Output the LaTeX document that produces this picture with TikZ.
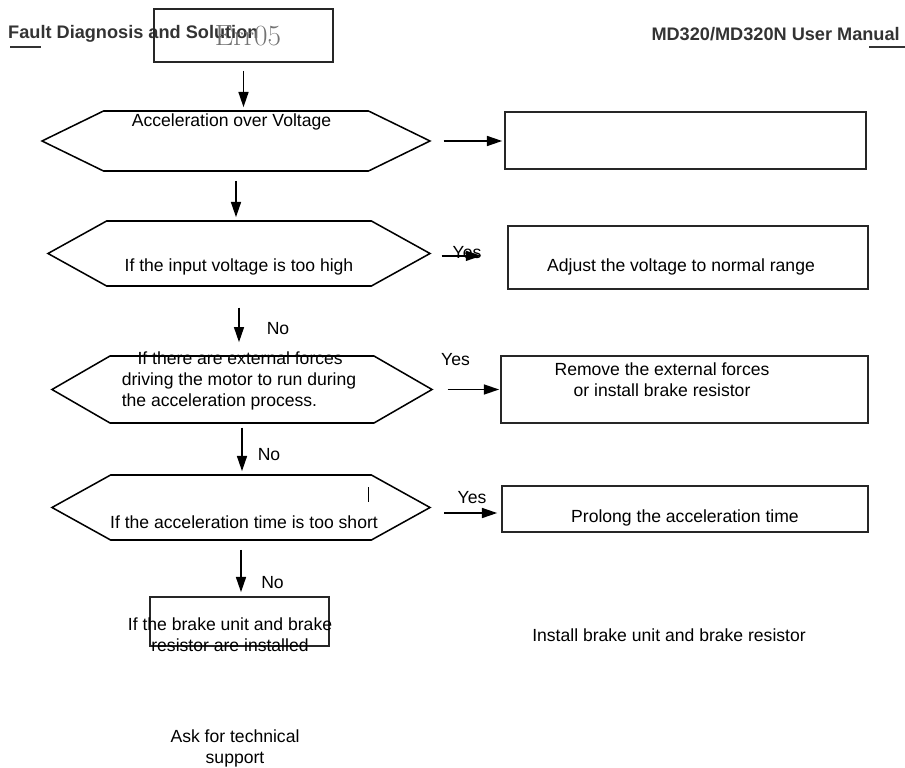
\documentclass[tikz,border=0pt]{standalone}
\usepackage{fontspec}
\setsansfont{Liberation Sans}
\usetikzlibrary{arrows.meta,shapes.symbols}

\begin{document}
\begin{tikzpicture}[
  x=0.03cm, y=-0.03cm,
  font=\sffamily\fontsize{15}{18}\selectfont,
  >={Triangle[length=13pt,width=8.5pt]},
  hdtext/.style={font=\sffamily\bfseries\fontsize{15.5}{18}\selectfont, text=black!80, inner sep=0pt},
  txt/.style={inner sep=0pt, align=center},
  actbox/.style={draw=black!85, line width=1.4pt, inner sep=0pt},
  decision/.style={signal, signal to=west and east, draw=black, line width=1.3pt, inner sep=0pt},
  flow/.style={->, draw=black, line width=1.4pt}
]
  \useasboundingbox (0,0) rectangle (905,768);

  % page header
  \node[hdtext, anchor=west] (hdl) at (8,34) {Fault Diagnosis and Solution};
  \node[hdtext, anchor=east] (hdr) at (900,34) {MD320/MD320N User Manual};
  \draw[line width=1.2pt, black!80] (10,47) -- (41,47);
  \draw[line width=1.2pt, black!80] (869,47) -- (905,47);

  % fault code
  \node[actbox, minimum width=5.37cm, minimum height=1.59cm] (err) at (243.5,35.5) {};
  \node[txt, font=\rmfamily\fontsize{25}{30}\selectfont, text=black!55] (errtxt) at (248,36) {Err05};

  % checks
  \node[decision, minimum width=11.64cm, minimum height=1.8cm, signal pointer angle=52] (q1) at (236,141) {};
  \node[txt] (q1txt) at (231.5,122) {Acceleration over Voltage};
  \node[decision, minimum width=11.46cm, minimum height=1.95cm, signal pointer angle=58] (q2) at (239,253.5) {};
  \node[txt] (q2txt) at (239,267) {If the input voltage is too high};
  \node[decision, minimum width=11.4cm, minimum height=2.01cm, signal pointer angle=60] (q3) at (242,389.5) {};
  \node[txt, align=left] (q3txt) at (239,381) {\hspace*{0.9em}If there are external forces\\driving the motor to run during\\the acceleration process.};
  \node[decision, minimum width=11.34cm, minimum height=1.95cm, signal pointer angle=58] (q4) at (241,507.5) {};
  \node[txt] (q4txt) at (244,522) {If the acceleration time is too short};
  \draw[line width=0.8pt] (368,487) -- (368,502);
  \node[actbox, minimum width=5.37cm, minimum height=1.47cm] (q5) at (239.5,621.5) {};
  \node[txt] (q5txt) at (230,635) {If the brake unit and brake\\resistor are installed};

  % remedies
  \node[actbox, minimum width=10.83cm, minimum height=1.71cm] (r1) at (685.5,140.5) {};
  \node[actbox, minimum width=10.8cm, minimum height=1.89cm] (r2) at (688,257.5) {};
  \node[txt] (r2txt) at (681,267) {Adjust the voltage to normal range};
  \node[actbox, minimum width=11.01cm, minimum height=2.01cm] (r3) at (684.5,389.5) {};
  \node[txt] (r3txt) at (662,380) {Remove the external forces\\or install brake resistor};
  \node[actbox, minimum width=10.98cm, minimum height=1.38cm] (r4) at (685,509) {};
  \node[txt] (r4txt) at (685,518) {Prolong the acceleration time};
  \node[txt] (r5) at (669,635) {Install brake unit and brake resistor};
  \node[txt] (r6) at (235,748.5) {Ask for technical\\support};

  % connectors
  \draw[flow, shorten <=6.8pt, shorten >=2.6pt] (err.south) -- (err.south |- q1.north);
  \draw[flow, shorten <=10.2pt, shorten >=1.7pt] (q1.east) -- (q1.east -| r1.west);
  \draw[flow, shorten <=7.7pt, shorten >=2.6pt] (q1.south) -- (q1.south |- q2.north);
  \draw[flow, shorten <=8.5pt, shorten >=22.2pt] ([yshift=-2pt]q2.east) -- ([yshift=-2pt]q2.east -| r2.west);
  \draw[flow, shorten <=17.9pt, shorten >=11.1pt] (q2.south) -- (q2.south |- q3.north);
  \draw[flow, shorten <=12pt, shorten >=0.9pt] (q3.east) -- (q3.east -| r3.west);
  \draw[flow, shorten <=3.4pt, shorten >=2.6pt] (q3.south) -- (q3.south |- q4.north);
  \draw[flow, shorten <=11pt, shorten >=3.4pt] ([yshift=-4.7pt]q4.east) -- ([yshift=-4.7pt]q4.east -| r4.west);
  \draw[flow, shorten <=7.7pt, shorten >=3.4pt] (q4.south) -- (q4.south |- q5.north);

  % branch labels
  \node[txt] (yes1) at (467,253) {Yes};
  \node[txt] (yes2) at (455.5,360) {Yes};
  \node[txt] (yes3) at (472,498) {Yes};
  \node[txt] (no1) at (278,329) {No};
  \node[txt] (no2) at (269,455) {No};
  \node[txt] (no3) at (272.5,583) {No};
\end{tikzpicture}
\end{document}
